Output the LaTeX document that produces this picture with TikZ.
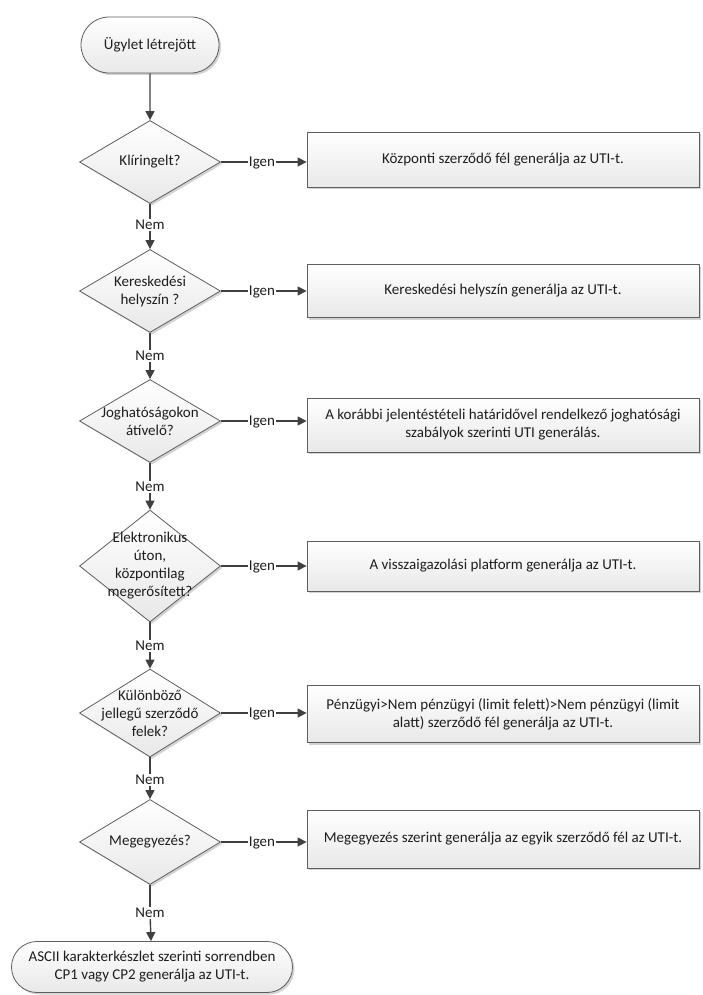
\documentclass[tikz,border=0pt]{standalone}
\usepackage{fontspec}
\setmainfont{Carlito}
\usetikzlibrary{arrows.meta, positioning, shapes.geometric, shapes.misc, shadows}
\definecolor{edgegray}{HTML}{5E5E5E}
\definecolor{linegray}{HTML}{404040}
\definecolor{textgray}{HTML}{1E1E1E}

\begin{document}
\begin{tikzpicture}[x=1pt,y=-1pt,font=\fontsize{15}{18}\selectfont,text=textgray,
shapefill/.style={draw=edgegray,line width=0.8pt,top color=white,bottom color=gray!18,drop shadow={shadow xshift=2pt,shadow yshift=-2pt,opacity=0.35}},
terminal/.style={shapefill,rounded rectangle,align=center,inner sep=2pt},
decision/.style={shapefill,diamond,minimum width=141pt,inner sep=0pt},
outcome/.style={shapefill,rectangle,align=center,minimum width=392pt,inner sep=2pt},
arrow/.style={draw=linegray,line width=1.4pt,-{Triangle[length=9pt,width=9pt]}},
plain/.style={draw=linegray,line width=1.4pt},
branch/.style={inner sep=1pt,text depth=0pt}]
\useasboundingbox (0,0) rectangle (702,995);
\node[terminal,minimum width=142pt,minimum height=56pt] (start) at (150,45){Ügylet létrejött};
\node[decision,minimum height=83pt,label={[align=center,name=t1]center:Klíringelt?}] (d1) at (150,162){};
\node[decision,minimum height=83pt,label={[align=center,name=t2]center:Kereskedési\\helyszín ?}] (d2) at (150,291){};
\node[decision,minimum height=83pt,label={[align=center,name=t3]center:Joghatóságokon\\átívelő?}] (d3) at (150,421){};
\node[decision,minimum height=112pt,label={[align=center,name=t4]center:Elektronikus\\úton,\\központilag\\megerősített?}] (d4) at (150,566){};
\node[decision,minimum height=88pt,label={[align=center,name=t5]center:Különböző\\jellegű szerződő\\felek?}] (d5) at (150,713){};
\node[decision,minimum height=85pt,label={[align=center,name=t6]center:Megegyezés?}] (d6) at (150,842){};
\node[terminal,minimum width=285pt,minimum height=51pt] (end) at (152,967){ASCII karakterkészlet szerinti sorrendben\\CP1 vagy CP2 generálja az UTI-t.};
\node[outcome,minimum height=55pt] (b1) at (503,160){Központi szerződő fél generálja az UTI-t.};
\node[outcome,minimum height=53pt] (b2) at (503,291){Kereskedési helyszín generálja az UTI-t.};
\node[outcome,minimum height=54pt] (b3) at (503,425){A korábbi jelentéstételi határidővel rendelkező joghatósági\\szabályok szerinti UTI generálás.};
\node[outcome,minimum height=50pt] (b4) at (503,566){A visszaigazolási platform generálja az UTI-t.};
\node[outcome,minimum height=57pt] (b5) at (503,714){Pénzügyi>Nem pénzügyi (limit felett)>Nem pénzügyi (limit\\alatt) szerződő fél generálja az UTI-t.};
\node[outcome,minimum height=58pt] (b6) at (503,839){Megegyezés szerint generálja az egyik szerződő fél az UTI-t.};
\node[branch] (n1) at (150,225){Nem};
\node[branch] (n2) at (150,356){Nem};
\node[branch] (n3) at (150,487){Nem};
\node[branch] (n4) at (150,646){Nem};
\node[branch] (n5) at (150,780){Nem};
\node[branch] (n6) at (150,913){Nem};
\node[branch] (i1) at (262,162){Igen};
\node[branch] (i2) at (262,291){Igen};
\node[branch] (i3) at (262,421){Igen};
\node[branch] (i4) at (262,566){Igen};
\node[branch] (i5) at (262,713){Igen};
\node[branch] (i6) at (262,842){Igen};
\draw[arrow] (start) -- (d1);
\draw[plain] (d1) -- (n1); \draw[arrow] (n1) -- (d2);
\draw[plain] (d2) -- (n2); \draw[arrow] (n2) -- (d3);
\draw[plain] (d3) -- (n3); \draw[arrow] (n3) -- (d4);
\draw[plain] (d4) -- (n4); \draw[arrow] (n4) -- (d5);
\draw[plain] (d5) -- (n5); \draw[arrow] (n5) -- (d6);
\draw[plain] (d6) -- (n6); \draw[arrow] (n6) -- (end);
\draw[plain] (d1.east) -- (i1); \draw[arrow] (i1) -- (i1 -| b1.west);
\draw[plain] (d2.east) -- (i2); \draw[arrow] (i2) -- (i2 -| b2.west);
\draw[plain] (d3.east) -- (i3); \draw[arrow] (i3) -- (i3 -| b3.west);
\draw[plain] (d4.east) -- (i4); \draw[arrow] (i4) -- (i4 -| b4.west);
\draw[plain] (d5.east) -- (i5); \draw[arrow] (i5) -- (i5 -| b5.west);
\draw[plain] (d6.east) -- (i6); \draw[arrow] (i6) -- (i6 -| b6.west);
\end{tikzpicture}
\end{document}
